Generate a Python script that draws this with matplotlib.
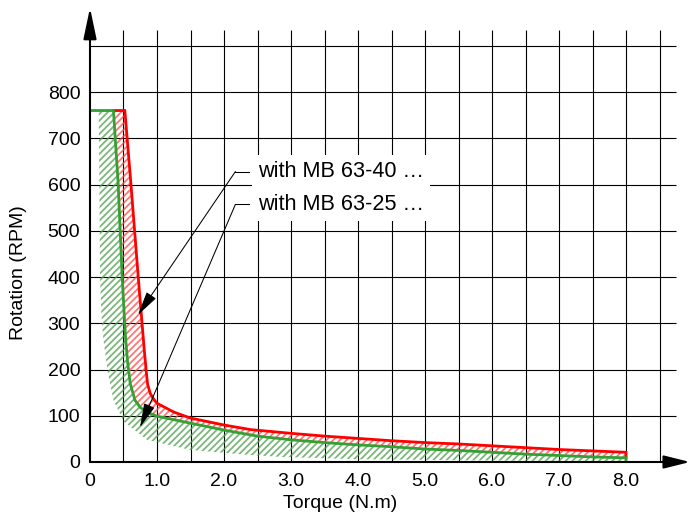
import numpy as np
import matplotlib
matplotlib.use("Agg")
import matplotlib.pyplot as plt

plt.rcParams['font.family'] = ['Liberation Sans', 'DejaVu Sans']
plt.rcParams['hatch.linewidth'] = 1.3

# ---- data ----
x_ticks = [0, 1, 2, 3, 4, 5, 6, 7, 8]
x_tick_labels = ['0', '1.0', '2.0', '3.0', '4.0', '5.0', '6.0', '7.0', '8.0']
y_ticks = [0, 100, 200, 300, 400, 500, 600, 700, 800]
y_tick_labels = [str(v) for v in y_ticks]

# MB 63-40 curve (red)
red_x = [0.35, 0.52, 0.61, 0.72, 0.81, 0.84, 0.86, 0.90, 0.95, 1.0, 1.25, 1.5,
         2.0, 2.4, 3.0, 3.5, 4.0, 4.5, 5.0, 5.5, 6.0, 6.5, 7.0, 7.5, 8.0]
red_y = [760, 760, 603, 400, 242, 195, 168, 148, 136, 127, 108, 95,
         80, 70, 62, 56, 51, 46, 42, 39, 35, 31, 27, 24, 21]

# MB 63-25 curve (green)
green_x = [0.0, 0.35, 0.42, 0.48, 0.53, 0.56, 0.60, 0.67, 0.75, 0.85, 1.0, 1.5,
           2.0, 2.5, 3.0, 3.5, 4.0, 4.5, 5.0, 5.5, 6.0, 6.5, 7.0, 7.5, 8.0]
green_y = [760, 760, 603, 400, 270, 218, 170, 134, 118, 108, 99, 84,
           69, 56, 48, 42, 37, 33, 28, 25, 21, 17, 14, 11, 9]

# lower edge of the green band
band_x = [0.13, 0.14, 0.15, 0.17, 0.20, 0.27, 0.35, 0.50, 0.85, 1.5, 2.4, 2.85, 4.0, 5.4, 8.0]
band_y = [760, 600, 400, 320, 264, 190, 134, 88, 48, 26, 15, 11, 6, 4, 1]

labels = ['with MB 63-40 …', 'with MB 63-25 …']

RED = '#ff0000'
GREEN = '#33a033'
FS = 14

fig = plt.figure(figsize=(6.93, 5.23), dpi=100)
ax = fig.add_axes([90 / 693, 61 / 523, 603 / 693, 462 / 523])
ax.set_xlim(0, 9.0)
ax.set_ylim(0, 999)
for s in ax.spines.values():
    s.set_visible(False)
ax.set_xticks(x_ticks)
ax.set_xticklabels(x_tick_labels)
ax.set_yticks(y_ticks)
ax.set_yticklabels(y_tick_labels)
ax.tick_params(length=0, labelsize=FS, colors='black')
ax.tick_params(axis='x', pad=8)
ax.tick_params(axis='y', pad=7)

# grid
ax.vlines(np.arange(0.5, 8.51, 0.5), 0, 935, color='black', lw=0.8, zorder=1)
ax.hlines(np.arange(100, 901, 100), 0, 8.75, color='black', lw=0.8, zorder=1)

# green hatched band
gpoly_x = list(band_x) + [8.0] + list(green_x[::-1][:-1])
gpoly_y = list(band_y) + [9] + list(green_y[::-1][:-1])
ax.fill(gpoly_x, gpoly_y, facecolor='none', edgecolor='#4f9f4f', hatch='/////',
        linewidth=0, alpha=0.75, zorder=2)

# red hatched region between green and red curves
gx = [x for x in green_x if x >= 0.35]
gy = [y for x, y in zip(green_x, green_y) if x >= 0.35]
rpoly_x = list(red_x) + gx[::-1]
rpoly_y = list(red_y) + gy[::-1]
ax.fill(rpoly_x, rpoly_y, facecolor='none', edgecolor='#ff4a4a', hatch='/////',
        linewidth=0, alpha=0.75, zorder=2)

# curves
ax.plot(red_x + [8.0], red_y + [green_y[-1]], color=RED, lw=2.0, zorder=4,
        solid_joinstyle='miter')
ax.plot(green_x + [8.0], green_y + [0], color=GREEN, lw=2.0, zorder=5,
        solid_joinstyle='miter')

# annotations
text_pos = [(2.51, 628), (2.51, 557)]
bend_pos = [(2.17, 628), (2.17, 557)]
tip_pos = [(0.716, 318), (0.746, 75)]
for lab, tp, bp, tip in zip(labels, text_pos, bend_pos, tip_pos):
    ax.text(tp[0], tp[1], lab, fontsize=15.6, ha='left', va='center', zorder=6,
            bbox=dict(boxstyle='square,pad=0.28', facecolor='white', edgecolor='none'))
    ax.plot([bp[0], 2.37], [bp[1], bp[1]], color='black', lw=0.75, zorder=7)
    ax.annotate('', xy=tip, xytext=bp, zorder=7,
                arrowprops=dict(arrowstyle='-|>,head_length=1.5,head_width=0.35',
                                mutation_scale=10, color='black', lw=0.75,
                                shrinkA=0, shrinkB=0))

# axis arrows
ax.annotate('', xy=(8.955, 0), xytext=(0, 0), annotation_clip=False, zorder=10,
            arrowprops=dict(arrowstyle='-|>,head_length=1.6,head_width=0.4',
                            mutation_scale=10, color='black', lw=1.5,
                            shrinkA=0, shrinkB=0))
ax.annotate('', xy=(0, 982), xytext=(0, 0), annotation_clip=False, zorder=10,
            arrowprops=dict(arrowstyle='-|>,head_length=1.9,head_width=0.4',
                            mutation_scale=10, color='black', lw=1.5,
                            shrinkA=0, shrinkB=0))

fig.text(340 / 693, 1 - 503 / 523, 'Torque (N.m)', fontsize=FS, ha='center', va='center')
fig.text(19 / 693, 1 - 273 / 523, 'Rotation (RPM)', fontsize=FS, ha='center', va='center',
         rotation=90)

fig.savefig('out.png', dpi=100)
